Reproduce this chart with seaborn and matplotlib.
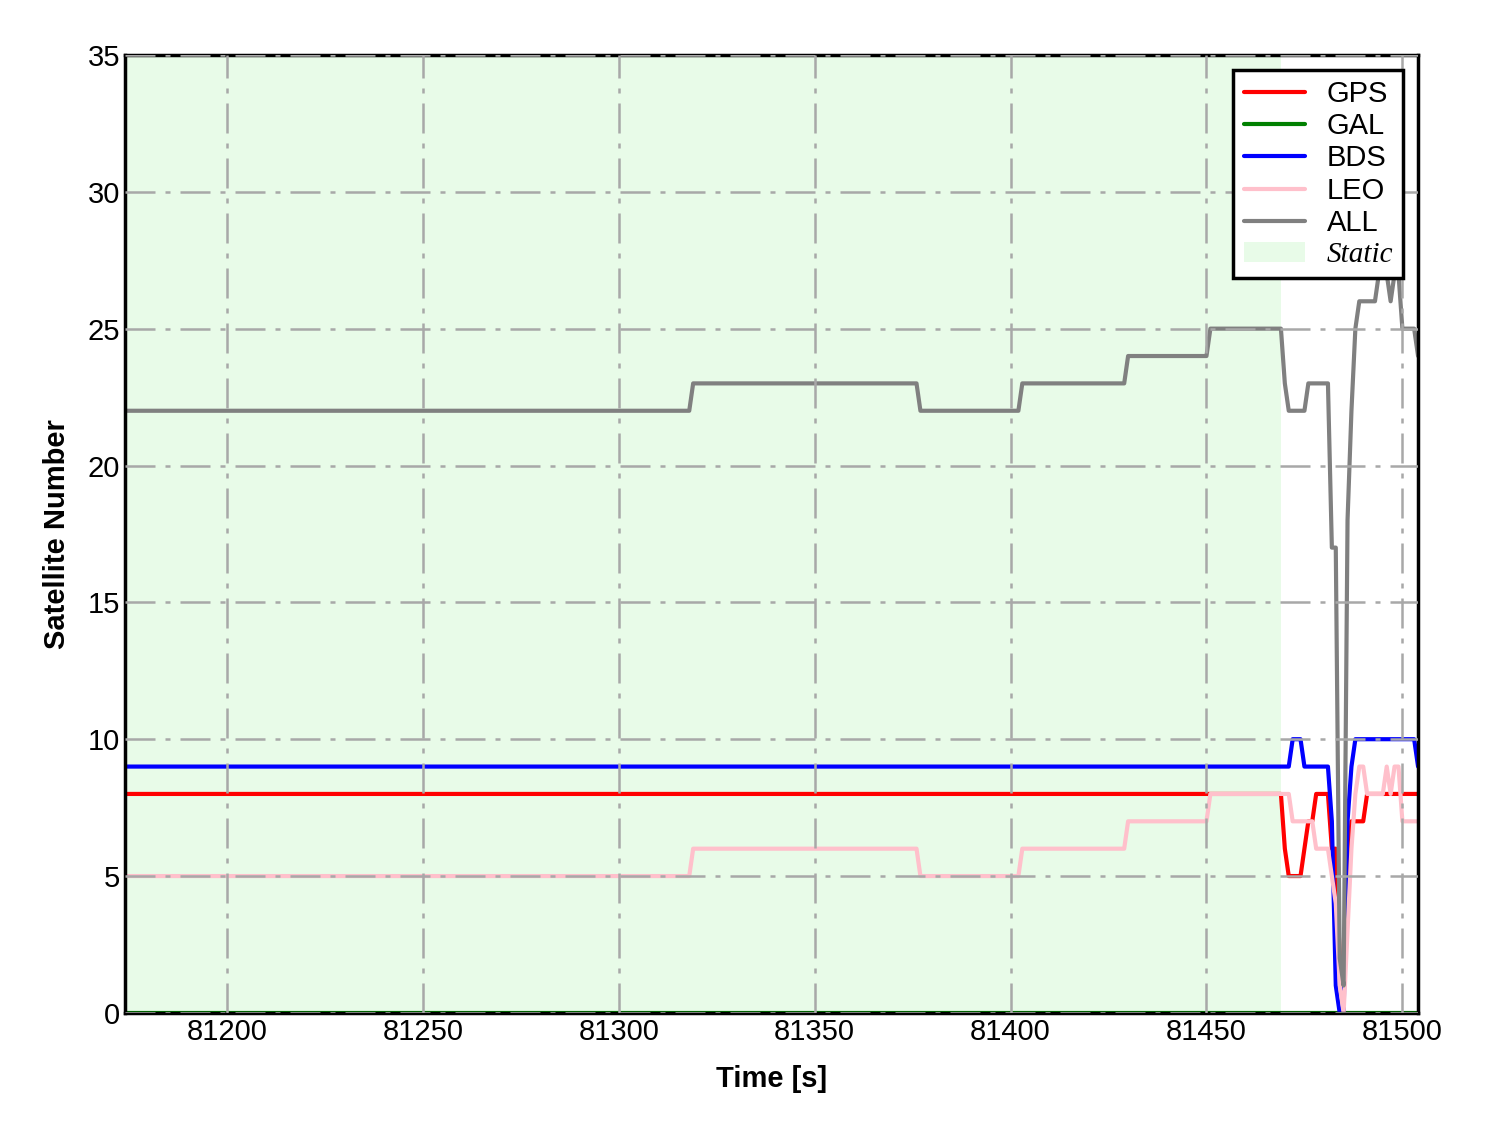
import numpy as np
import pandas as pd
import seaborn as sns
import matplotlib.pyplot as plt
from matplotlib.lines import Line2D
from matplotlib.patches import Patch

# Time axis (1 s epochs)
T_START = 81174
T_END = 81504
STATIC_END = 81469

# Static phase as (value, number of epochs) runs, 81174..81468
gps_static = [(8, 295)]
gal_static = [(0, 295)]
bds_static = [(9, 295)]
leo_static = [(5, 145), (6, 58), (5, 26), (6, 27), (7, 21), (8, 18)]
all_static = [(22, 145), (23, 58), (22, 26), (23, 27), (24, 21), (25, 18)]

# Kinematic phase, one value per epoch, 81469..81504
gps_kin = [8, 6, 5, 5, 5, 5, 6, 7, 7, 8, 8, 8, 8, 6, 6, 2, 1, 5, 7, 7, 7, 7,
           8, 8, 8, 8, 8, 8, 8, 8, 8, 8, 8, 8, 8, 8]
gal_kin = [0] * 36
bds_kin = [9, 9, 9, 10, 10, 10, 9, 9, 9, 9, 9, 9, 9, 7, 1, 0, 0, 7, 9,
           10, 10, 10, 10, 10, 10, 10, 10, 10, 10, 10, 10, 10, 10, 10, 10, 9]
leo_kin = [8, 8, 8, 7, 7, 7, 7, 7, 7, 6, 6, 6, 6, 5, 4, 1, 0, 3, 6, 8, 9, 9,
           8, 8, 8, 8, 8, 9, 8, 9, 9, 7, 7, 7, 7, 7]
all_kin = [25, 23, 22, 22, 22, 22, 22, 23, 23, 23, 23, 23, 23, 17, 17, 2, 1,
           18, 22, 25, 26, 26, 26, 26, 26, 27, 27, 27, 26, 27, 27, 25, 25, 25, 25, 24]

systems = ['GPS', 'GAL', 'BDS', 'LEO', 'ALL']
colors = ['red', 'green', 'blue', 'pink', 'gray']


def expand(runs, kin):
    vals = []
    for v, n in runs:
        vals += [v] * n
    return vals + kin


series = {
    'GPS': expand(gps_static, gps_kin),
    'GAL': expand(gal_static, gal_kin),
    'BDS': expand(bds_static, bds_kin),
    'LEO': expand(leo_static, leo_kin),
    'ALL': expand(all_static, all_kin),
}
time = np.arange(T_START, T_END + 1)

df = pd.concat([
    pd.DataFrame({'Time': time, 'Num': series[s], 'System': s}) for s in systems
])

sns.set_style("white")
plt.rcParams['font.family'] = ['Liberation Sans', 'DejaVu Sans']
plt.rcParams['text.color'] = 'black'
plt.rcParams['axes.labelcolor'] = 'black'
plt.rcParams['xtick.color'] = 'black'
plt.rcParams['ytick.color'] = 'black'

fig = plt.figure(figsize=(14.88, 11.33), dpi=100)
ax = fig.add_axes([0.084, 0.106, 0.869, 0.8455])

ax.axvspan(T_START, STATIC_END, color='lightgreen', alpha=0.2, lw=0, zorder=0)
sns.lineplot(data=df, x='Time', y='Num', hue='System', hue_order=systems,
             palette=dict(zip(systems, colors)), estimator=None, linewidth=3,
             legend=False, ax=ax)

ax.set_xlim(T_START, T_END)
ax.set_ylim(0, 35)
ax.set_xticks(np.arange(81200, 81501, 50))
ax.set_yticks(np.arange(0, 36, 5))
ax.grid(True, linestyle='-.', color='#a8a8a8', linewidth=1.8, dashes=(12, 4, 2, 4))
ax.set_axisbelow(False)
for ln in ax.get_xgridlines() + ax.get_ygridlines():
    ln.set_zorder(0.5)

ax.tick_params(direction='in', length=6, width=2, labelsize=21, color='black',
               labelcolor='black')
for sp in ax.spines.values():
    sp.set_color('black')
    sp.set_linewidth(2.5)

ax.set_xlabel('Time [s]', fontsize=21, fontweight='bold', labelpad=14)
ax.set_ylabel('Satellite Number', fontsize=21, fontweight='bold', labelpad=12)

handles = [Line2D([0], [0], color=c, lw=3) for c in colors]
handles.append(Patch(facecolor='lightgreen', alpha=0.2, edgecolor='none'))
leg = ax.legend(handles, systems + ['Static'], loc='upper right', fontsize=21,
                frameon=True, fancybox=False, framealpha=1, edgecolor='black',
                labelspacing=0.15, handlelength=2.1, handletextpad=0.75,
                borderpad=0.35, borderaxespad=0.5)
leg.get_frame().set_linewidth(2.5)
for t in leg.get_texts():
    t.set_color('black')
static_txt = leg.get_texts()[-1]
static_txt.set_fontfamily(['Liberation Serif', 'DejaVu Serif'])
static_txt.set_fontstyle('italic')

plt.savefig('out.png', dpi=100)
